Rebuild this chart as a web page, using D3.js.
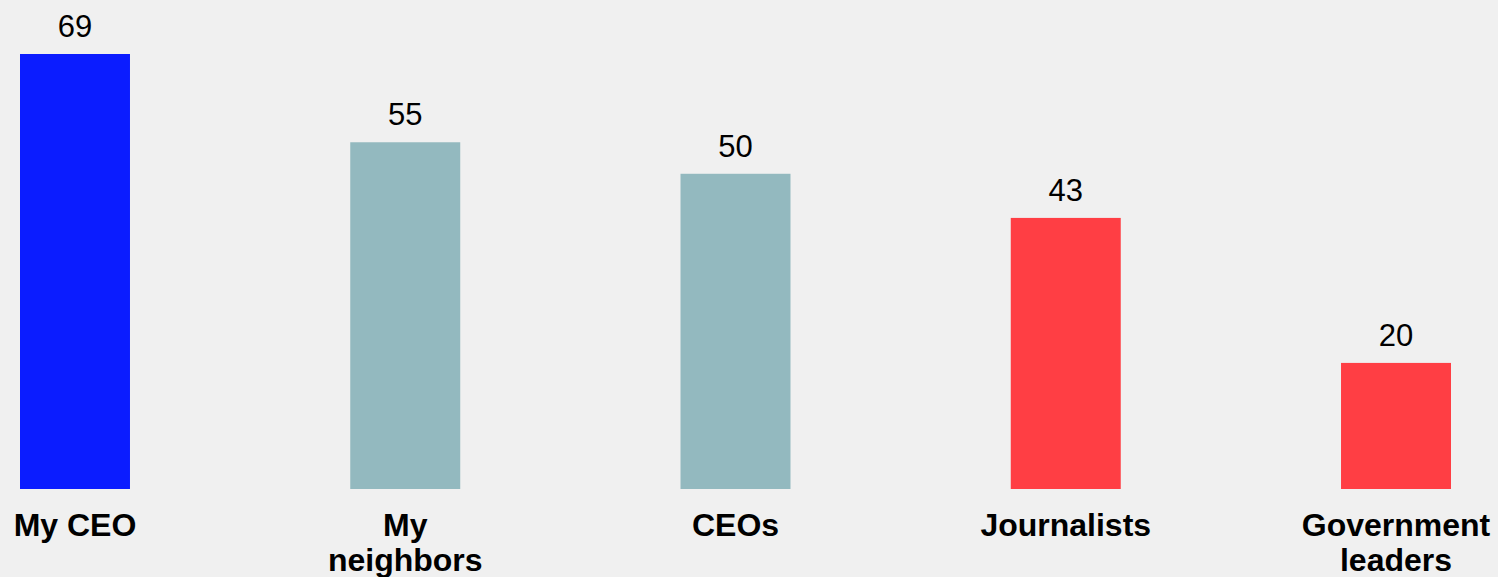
<!DOCTYPE html>
<html>
<head>
<meta charset="utf-8">
<script src="https://cdn.jsdelivr.net/npm/d3@7"></script>
<style>
  html, body { margin: 0; padding: 0; background: #f0f0f0; }
  svg { display: block; }
</style>
</head>
<body>
<script>
const categories = ["My CEO", "My neighbors", "CEOs", "Journalists", "Government leaders"];
const labelLines = [["My CEO"], ["My", "neighbors"], ["CEOs"], ["Journalists"], ["Government", "leaders"]];
const values = [69, 55, 50, 43, 20];
const colors = ["#0b1cff", "#93b9bf", "#93b9bf", "#ff3e44", "#ff3e44"];

const W = 1498, H = 577;
const svg = d3.select("body").append("svg").attr("width", W).attr("height", H)
  .style("background", "#f0f0f0");

const x = d3.scaleBand().domain(categories).range([20, 1451]).paddingInner(0.667).paddingOuter(0);
const y = d3.scaleLinear().domain([0, 69]).range([489, 54]);

svg.selectAll("rect.bar").data(values).join("rect")
  .attr("class", "bar")
  .attr("x", (d, i) => x(categories[i]))
  .attr("width", x.bandwidth())
  .attr("y", d => y(d))
  .attr("height", d => y(0) - y(d))
  .attr("fill", (d, i) => colors[i]);

svg.selectAll("text.val").data(values).join("text")
  .attr("class", "val")
  .attr("x", (d, i) => x(categories[i]) + x.bandwidth() / 2)
  .attr("y", d => y(d) - 17)
  .attr("text-anchor", "middle")
  .attr("font-family", "Liberation Sans, Arial, sans-serif")
  .attr("font-size", 31)
  .attr("fill", "#000")
  .text(d => d);

const lab = svg.selectAll("text.cat").data(categories).join("text")
  .attr("class", "cat")
  .attr("x", d => x(d) + x.bandwidth() / 2)
  .attr("y", 535.5)
  .attr("text-anchor", "middle")
  .attr("font-family", "Liberation Sans, Arial, sans-serif")
  .attr("font-weight", "bold")
  .attr("font-size", 32)
  .attr("fill", "#000");
lab.each(function(d, i) {
  const t = d3.select(this);
  labelLines[i].forEach((ln, j) => {
    t.append("tspan").attr("x", x(d) + x.bandwidth() / 2).attr("dy", j === 0 ? 0 : 35).text(ln);
  });
});
</script>
</body>
</html>
